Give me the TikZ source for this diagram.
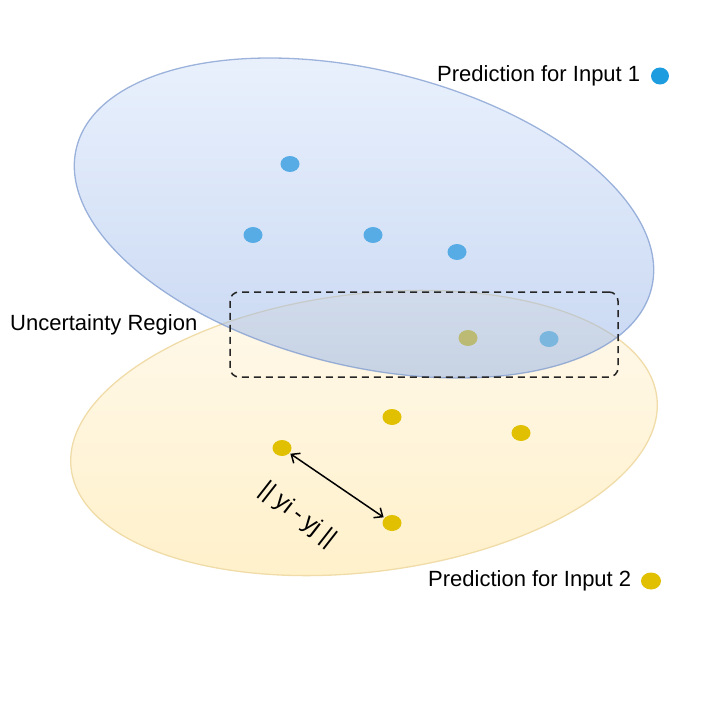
\documentclass[tikz,border=0pt]{standalone}
\usepackage{fontspec}
\setmainfont{Liberation Sans}
\usetikzlibrary{shapes.geometric,arrows.meta}
\definecolor{bluedot}{RGB}{88,172,230}
\definecolor{bluedotb}{RGB}{122,182,222}
\definecolor{legblue}{RGB}{30,156,224}
\definecolor{yeldot}{RGB}{224,192,0}
\definecolor{blueA}{RGB}{140,172,228}
\definecolor{blueB}{RGB}{216,230,252}
\definecolor{blueEdge}{RGB}{120,150,205}
\definecolor{yelA}{RGB}{255,249,236}
\definecolor{yelB}{RGB}{255,240,200}
\definecolor{yelEdge}{RGB}{240,220,168}
\tikzset{
  dotb/.style={ellipse,fill=bluedot,inner sep=0pt,minimum width=19pt,minimum height=16pt},
  doty/.style={ellipse,fill=yeldot,inner sep=0pt,minimum width=19pt,minimum height=16pt},
  legtext/.style={font=\fontsize{22}{26}\selectfont,inner sep=0pt},
}
\begin{document}
\begin{tikzpicture}[x=1pt,y=-1pt]
\useasboundingbox (0,0) rectangle (709,709);
% yellow region
\shade[rotate around={7:(364,433)},shading angle=-20,top color=yelA,bottom color=yelB,draw=yelEdge,line width=1.3pt]
  (364,433) ellipse [x radius=295,y radius=139];
% yellow dots
\node[doty] (y1) at (468,338) {};
\node[doty] (y2) at (392,417) {};
\node[doty] (y3) at (521,433) {};
\node[doty] (y4) at (282,448) {};
\node[doty] (y5) at (392,523) {};
% blue region
\shade[rotate around={-13.7:(364,218)},shading angle=-25,top color=blueB,bottom color=blueA,fill opacity=0.5]
  (364,218) ellipse [x radius=296,y radius=148];
\draw[rotate around={-13.7:(364,218)},draw=blueEdge,draw opacity=0.7,line width=1.3pt]
  (364,218) ellipse [x radius=296,y radius=148];
% blue dots
\node[dotb] (b1) at (290,164) {};
\node[dotb] (b2) at (253,235) {};
\node[dotb] (b3) at (373,235) {};
\node[dotb] (b4) at (457,252) {};
\node[dotb,fill=bluedotb] (b5) at (549,339) {};
% uncertainty region
\node[draw=black!85,dashed,dash pattern=on 7pt off 5pt,line width=1.5pt,rounded corners=9pt,
  minimum width=388pt,minimum height=85pt,inner sep=0pt] (ur) at (424,334.5) {};
\node[legtext,anchor=west] (urt) at (10,325) {Uncertainty Region};
% distance arrow
\draw[{Straight Barb[length=7pt,width=12pt]}-{Straight Barb[length=7pt,width=12pt]},line width=1.5pt,shorten <=1pt,shorten >=1pt]
  (y4) -- (y5);
\node[font=\fontsize{24}{28}\selectfont,rotate=-38,inner sep=0pt] (dl) at (298,515) {||\hspace{6pt}yi\hspace{5pt}-\hspace{5pt}yj\hspace{6pt}||};
% legends
\node[legtext,anchor=west] (l1) at (437,76) {Prediction for Input 1};
\node[ellipse,fill=legblue,inner sep=0pt,minimum width=18pt,minimum height=17pt] (l1d) at (660,76) {};
\node[legtext,anchor=west] (l2) at (428,581) {Prediction for Input 2};
\node[doty,minimum width=20pt,minimum height=17pt] (l2d) at (651,581) {};
\end{tikzpicture}
\end{document}
